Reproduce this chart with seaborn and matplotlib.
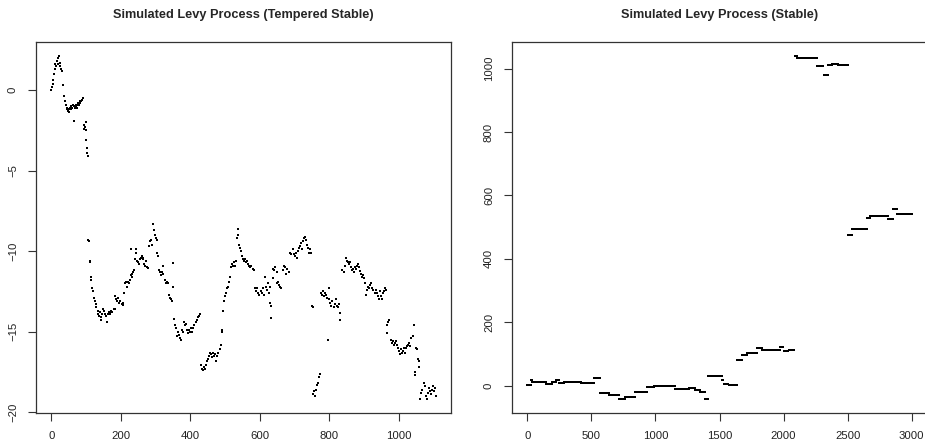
import numpy as np
import pandas as pd
import seaborn as sns
import matplotlib.pyplot as plt

# tempered stable path
ts_x = [0, 2, 4, 6, 8, 10, 12, 14, 16, 18, 20, 22, 24, 26, 28, 30, 33, 35, 37, 40,
        42, 44, 46, 48, 50, 52, 54, 56, 58, 60, 62, 64, 66, 68, 70, 72, 74, 76, 78, 80,
        82, 84, 86, 88, 90, 93, 95, 97, 99, 100, 101, 103, 104, 105,
        106, 108, 110, 111, 114, 115, 118, 120, 123, 125, 128, 130, 133, 135, 137, 140,
        142, 144, 147, 149, 152, 155, 157, 160, 162, 165, 168, 170, 173, 176, 179, 182,
        184, 187, 190, 193, 196, 199, 202, 205, 207, 210, 213, 215, 218, 221, 224, 226,
        228, 231, 233, 235, 229, 237, 240, 243, 245, 247, 250, 253, 255, 258, 260, 263,
        265, 268, 270, 273, 276, 279, 282, 285, 288, 291, 294, 296, 298, 300, 303, 305,
        307, 311, 313, 316, 318, 320, 322, 327, 330, 333, 335, 338, 341, 344, 346, 349,
        351, 352, 355, 358, 361, 364, 367, 370, 373, 376, 380, 382, 385, 388, 391, 394,
        397, 400, 403, 406, 409, 412, 415, 418, 421, 424, 428,
        430, 433, 436, 439, 442, 445, 448, 451, 454, 457, 460, 463, 466, 469, 472, 475,
        478, 481, 484, 487, 490, 492, 493, 497, 500, 503, 506, 508, 511, 514, 517, 520,
        523, 526, 529, 532, 534, 536, 538, 540, 542, 545, 548, 551, 554, 557, 560, 563,
        566, 569, 572, 576, 580, 584, 587, 590, 593, 596, 599, 602, 605, 608, 611, 614,
        617, 620, 623, 626, 629, 630, 631, 632, 637, 639, 642, 645, 648, 650, 653, 656,
        659, 662, 667, 670, 673, 676, 678, 684, 688, 691, 694, 697, 700, 703, 706, 709,
        712, 715, 718, 721, 724, 727, 730, 733, 736, 739, 742, 745, 748, 750, 752,
        754, 756, 758, 761, 764, 767, 770, 773, 775, 778, 781, 784, 787, 790, 793, 795,
        798, 800, 803, 806, 809, 812, 815, 818, 821, 824, 827, 830, 832, 837, 841, 844,
        847, 850, 853, 856, 859, 862, 865, 868, 871, 874, 877, 880, 883, 886, 889, 892,
        895, 898, 901, 904, 906, 909, 912, 915, 918, 921, 924, 927, 930, 933, 936, 939,
        942, 945, 948, 951, 954, 957, 960, 962, 965, 967, 970, 973, 976, 979, 982, 985,
        988, 991, 994, 997, 1000, 1003, 1006, 1009, 1012, 1015, 1018, 1021, 1024, 1027,
        1030, 1033, 1036, 1040, 1043, 1045, 1047, 1049, 1052, 1055, 1057, 1059, 1062,
        1065, 1068, 1071, 1074, 1077, 1080, 1083, 1086, 1089, 1092, 1095, 1098, 1101,
        1104, 1106]
ts_y = [0.0, 0.2, 0.4, 0.6, 1.0, 1.3, 1.6, 1.5, 1.8, 1.6, 2.0, 2.1, 1.7, 1.5, 1.3, 1.2, 0.3, 0.3, -0.4, -0.7,
        -0.9, -1.1, -1.2, -1.3, -1.2, -1.35, -1.1, -1.0, -1.2, -1.1, -0.9, -1.9, -1.0, -1.1, -1.0, -0.9, -1.1, -0.9, -0.8, -0.9,
        -0.7, -0.8, -0.7, -0.6, -0.5, -2.2, -2.4, -2.3, -2.0, -2.5, -3.1, -3.6, -3.9, -4.1,
        -9.3, -9.4, -10.6, -10.7, -11.6, -11.8, -12.3, -12.5, -12.9, -13.1, -13.3, -13.5, -13.7, -13.9, -14.0, -13.8,
        -14.1, -14.25, -13.9, -13.6, -13.7, -13.9, -14.0, -14.4, -13.9, -13.8, -13.9, -13.8, -13.7, -13.8, -13.6, -13.6,
        -12.8, -13.0, -13.1, -12.9, -13.2, -13.1, -13.3, -13.2, -13.35, -12.6, -12.0, -11.9, -12.2, -11.9, -12.0, -11.8,
        -11.5, -11.4, -11.6, -11.3, -9.9, -11.2, -10.5, -9.9, -10.1, -10.6, -10.7, -10.8, -10.5, -10.4, -10.3, -10.5,
        -10.4, -10.8, -10.9, -10.6, -11.0, -11.05, -9.7, -9.4, -9.3, -9.6, -8.3, -8.7, -9.0, -9.2, -9.3, -10.1,
        -10.3, -11.2, -11.3, -11.5, -11.3, -10.9, -11.4, -11.8, -12.0, -11.9, -12.0, -12.7, -12.9, -13.0, -13.1, -10.75,
        -12.2, -14.2, -14.6, -14.8, -15.3, -15.0, -15.2, -15.4, -15.5, -14.9, -15.0, -14.4, -14.6, -14.5, -14.9, -15.1,
        -14.9, -15.0, -14.8, -15.0, -14.8, -14.6, -14.4, -14.3, -14.1, -14.0, -13.9,
        -17.1, -17.3, -17.4, -17.2, -17.3, -17.1, -16.8, -16.7, -16.5, -16.3, -16.4, -16.6, -16.3, -16.5, -16.4, -16.8,
        -16.5, -16.3, -16.1, -15.8, -15.0, -14.9, -13.7, -13.1, -12.8, -12.6, -12.3, -12.2, -11.9, -11.6, -11.0, -10.8,
        -10.9, -10.7, -10.9, -10.6, -9.2, -9.0, -8.6, -9.6, -9.8, -10.0, -10.3, -10.5, -10.6, -10.5, -10.7, -10.6,
        -10.8, -10.9, -11.0, -10.9, -11.1, -11.15, -12.3, -12.5, -12.3, -12.6, -12.7, -12.5, -12.6, -12.3, -12.7, -11.6,
        -12.2, -12.4, -12.0, -12.6, -12.2, -13.2, -13.4, -14.15, -11.7, -11.1, -11.2, -11.0, -11.3, -12.0, -11.9, -12.1,
        -12.2, -12.3, -11.2, -10.9, -11.0, -11.4, -11.1, -11.3, -10.1, -10.2, -9.9, -10.2, -10.3, -10.1, -10.4, -10.0,
        -9.8, -9.7, -9.5, -9.9, -9.4, -9.2, -9.1, -9.3, -9.6, -9.8, -10.1, -9.9, -10.1, -13.4, -13.5,
        -18.9, -18.7, -19.0, -18.6, -18.3, -18.2, -17.8, -17.6, -12.6, -12.7, -12.5, -12.8, -12.6, -12.7, -12.9, -15.5,
        -12.3, -13.0, -13.2, -13.4, -13.1, -13.5, -13.3, -13.0, -13.4, -13.5, -13.3, -13.85, -14.25, -11.15, -11.3, -10.9,
        -10.4, -10.6, -10.7, -10.8, -10.7, -11.0, -11.2, -11.1, -11.3, -11.0, -11.1, -10.9, -10.8, -11.0, -11.25, -11.4,
        -11.6, -11.5, -11.7, -12.0, -12.7, -12.4, -12.2, -12.3, -12.1, -12.0, -12.3, -12.4, -12.6, -12.4, -12.6, -12.8,
        -13.0, -12.5, -12.8, -13.0, -12.6, -12.5, -12.3, -12.4, -15.1, -14.6, -14.4, -14.3, -15.5, -15.7, -15.6, -15.8,
        -15.7, -15.6, -15.8, -16.0, -16.2, -16.4, -16.1, -16.3, -16.2, -16.0, -16.3, -16.0, -15.9, -15.8,
        -15.7, -15.9, -15.4, -15.3, -14.6, -17.5, -17.7, -16.0, -16.1, -16.7, -17.2, -16.8, -19.2,
        -18.8, -18.6, -18.2, -18.4, -19.0, -19.2, -18.8, -18.5, -18.7, -18.9, -18.6, -18.4, -18.7,
        -18.5, -19.0]

# stable path: flat stretches between jumps (start, end, level)
seg_start = [0, 26, 39, 143, 195, 221, 247, 286, 312, 416, 519, 566, 636, 719, 766, 844,
             935, 987, 1156, 1260, 1312, 1351, 1384, 1410, 1520, 1532, 1571, 1636, 1675,
             1714, 1792, 1831, 1870, 1974, 2000, 2039, 2086, 2104, 2260, 2312, 2345, 2377,
             2429, 2501, 2532, 2649, 2675, 2818, 2857, 2883]
seg_end = [26, 39, 143, 195, 221, 247, 286, 312, 416, 519, 566, 636, 719, 766, 844, 935,
           987, 1156, 1260, 1312, 1351, 1384, 1410, 1520, 1532, 1571, 1636, 1675, 1714,
           1792, 1831, 1870, 1974, 2000, 2039, 2086, 2104, 2260, 2312, 2345, 2377, 2429,
           2501, 2532, 2649, 2675, 2818, 2857, 2883, 3001]
seg_level = [3, 19, 10.5, 5, 13, 17, 8, 10.5, 11, 8.5, 23, -23, -28, -41, -34, -21,
             -5, -2, -9.5, -7, -12.6, -20, -42, 31.6, 19, 5, 1, 82, 98,
             103, 119, 114, 111.6, 121, 108, 111.6, 1040, 1035, 1008, 979, 1011, 1016,
             1010.5, 475, 493, 529.5, 535, 526, 558, 543]

left = pd.DataFrame({"t": ts_x, "x": ts_y})
right = pd.DataFrame({
    "t": np.concatenate([np.arange(a, b) for a, b in zip(seg_start, seg_end)]),
    "x": np.concatenate([np.full(b - a, v) for a, b, v in zip(seg_start, seg_end, seg_level)]),
})

sns.set_style("white")
plt.rcParams["font.family"] = ["Liberation Sans", "DejaVu Sans"]

fig = plt.figure(figsize=(9.25, 4.44), dpi=100)
ax1 = fig.add_axes([36 / 925, 1 - 413 / 444, 415 / 925, 371 / 444])
ax2 = fig.add_axes([512 / 925, 1 - 413 / 444, 415 / 925, 371 / 444])

for ax, df, title in [(ax1, left, "Simulated Levy Process (Tempered Stable)"),
                      (ax2, right, "Simulated Levy Process (Stable)")]:
    sns.scatterplot(data=df, x="t", y="x", ax=ax, color="black", marker="s",
                    s=3, linewidth=0, legend=False)
    ax.set_title(title, fontsize=9.2, fontweight="bold", pad=17)
    ax.set_xlabel("")
    ax.set_ylabel("")
    for sp in ax.spines.values():
        sp.set_color("#333333")
        sp.set_linewidth(0.9)
    ax.tick_params(axis="both", direction="out", length=6, width=0.8,
                   color="#333333", labelsize=8.2, labelcolor="#222222", pad=7,
                   left=True, bottom=True)

ax1.set_xlim(-44, 1150)
ax1.set_ylim(-20.05, 2.98)
ax1.set_xticks([0, 200, 400, 600, 800, 1000])
ax1.set_yticks([-20, -15, -10, -5, 0])

ax2.set_xlim(-120, 3120)
ax2.set_ylim(-86, 1084)
ax2.set_xticks([0, 500, 1000, 1500, 2000, 2500, 3000])
ax2.set_yticks([0, 200, 400, 600, 800, 1000])

for ax in (ax1, ax2):
    plt.setp(ax.get_yticklabels(), rotation=90, va="center")

fig.savefig("out.png", dpi=100)
